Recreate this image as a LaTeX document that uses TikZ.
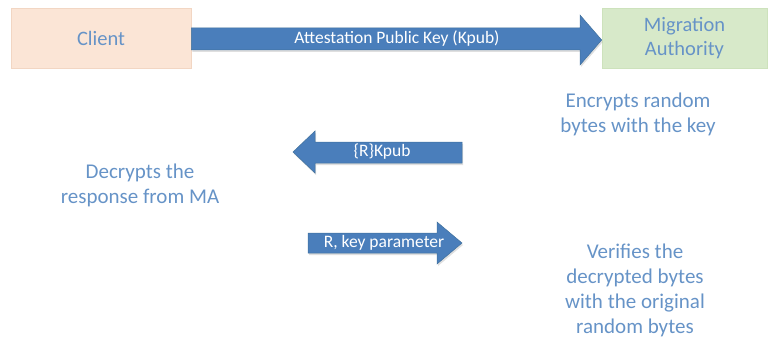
\documentclass[tikz,border=0pt]{standalone}
\usepackage{fontspec}
\setmainfont{Carlito}
\usetikzlibrary{shadows}
\definecolor{peach}{HTML}{FBE5D6}
\definecolor{peachline}{HTML}{F2D6C3}
\definecolor{mint}{HTML}{D7E9C9}
\definecolor{mintline}{HTML}{CDE2BC}
\definecolor{arrowblue}{HTML}{4A7EBB}
\definecolor{arrowline}{HTML}{41719C}
\definecolor{labelblue}{HTML}{6693C7}
\tikzset{
  party/.style={draw, line width=0.6pt, minimum height=60pt, inner sep=0pt,
    font=\fontsize{20.5}{24}\selectfont, text=labelblue, align=center},
  blockarrow/.style={fill=arrowblue, draw=arrowline, line width=0.5pt,
    drop shadow={opacity=0.25, shadow xshift=1pt, shadow yshift=-2pt}},
  arrowtext/.style={text=white, font=\fontsize{17.5}{20}\selectfont, inner sep=0pt},
  note/.style={text=labelblue, align=center, font=\fontsize{21}{25}\selectfont, inner sep=0pt}
}
\begin{document}
\begin{tikzpicture}[x=1pt, y=-1pt]
  \useasboundingbox (0,0) rectangle (772,345);

  % the two parties
  \node[party, fill=peach, draw=peachline, minimum width=180pt] (client) at (101,38) {Client};
  \node[party, fill=mint, draw=mintline, minimum width=165pt] (ma) at (684.5,38) {Migration\\Authority};

  % Kpub sent from client to the authority
  \path[blockarrow] (client.east |- 0,28) -- (580,28) -- (580,15) -- (ma.west |- 0,40)
    -- (580,65) -- (580,50) -- (client.east |- 0,50) -- cycle;
  \node[arrowtext] (kpub) at (397,39) {Attestation Public Key (Kpub)};

  % authority's action
  \node[note] (encrypt) at (638,114) {Encrypts random\\bytes with the key};

  % encrypted bytes back to the client
  \path[blockarrow] (462,142) -- (315,142) -- (315,131) -- (293,152)
    -- (315,173) -- (315,163) -- (462,163) -- cycle;
  \node[arrowtext] (rk) at (382,152) {\{R\}Kpub};

  \node[note] (decrypt) at (140,185) {Decrypts the\\response from MA};

  % decrypted result returned
  \path[blockarrow] (308,233) -- (437,233) -- (437,222) -- (462,243)
    -- (437,264) -- (437,253) -- (308,253) -- cycle;
  \node[arrowtext] (rkey) at (384,243) {R, key parameter};

  \node[note] (verify) at (635,290.5) {Verifies the\\decrypted bytes\\with the original\\random bytes};
\end{tikzpicture}
\end{document}
